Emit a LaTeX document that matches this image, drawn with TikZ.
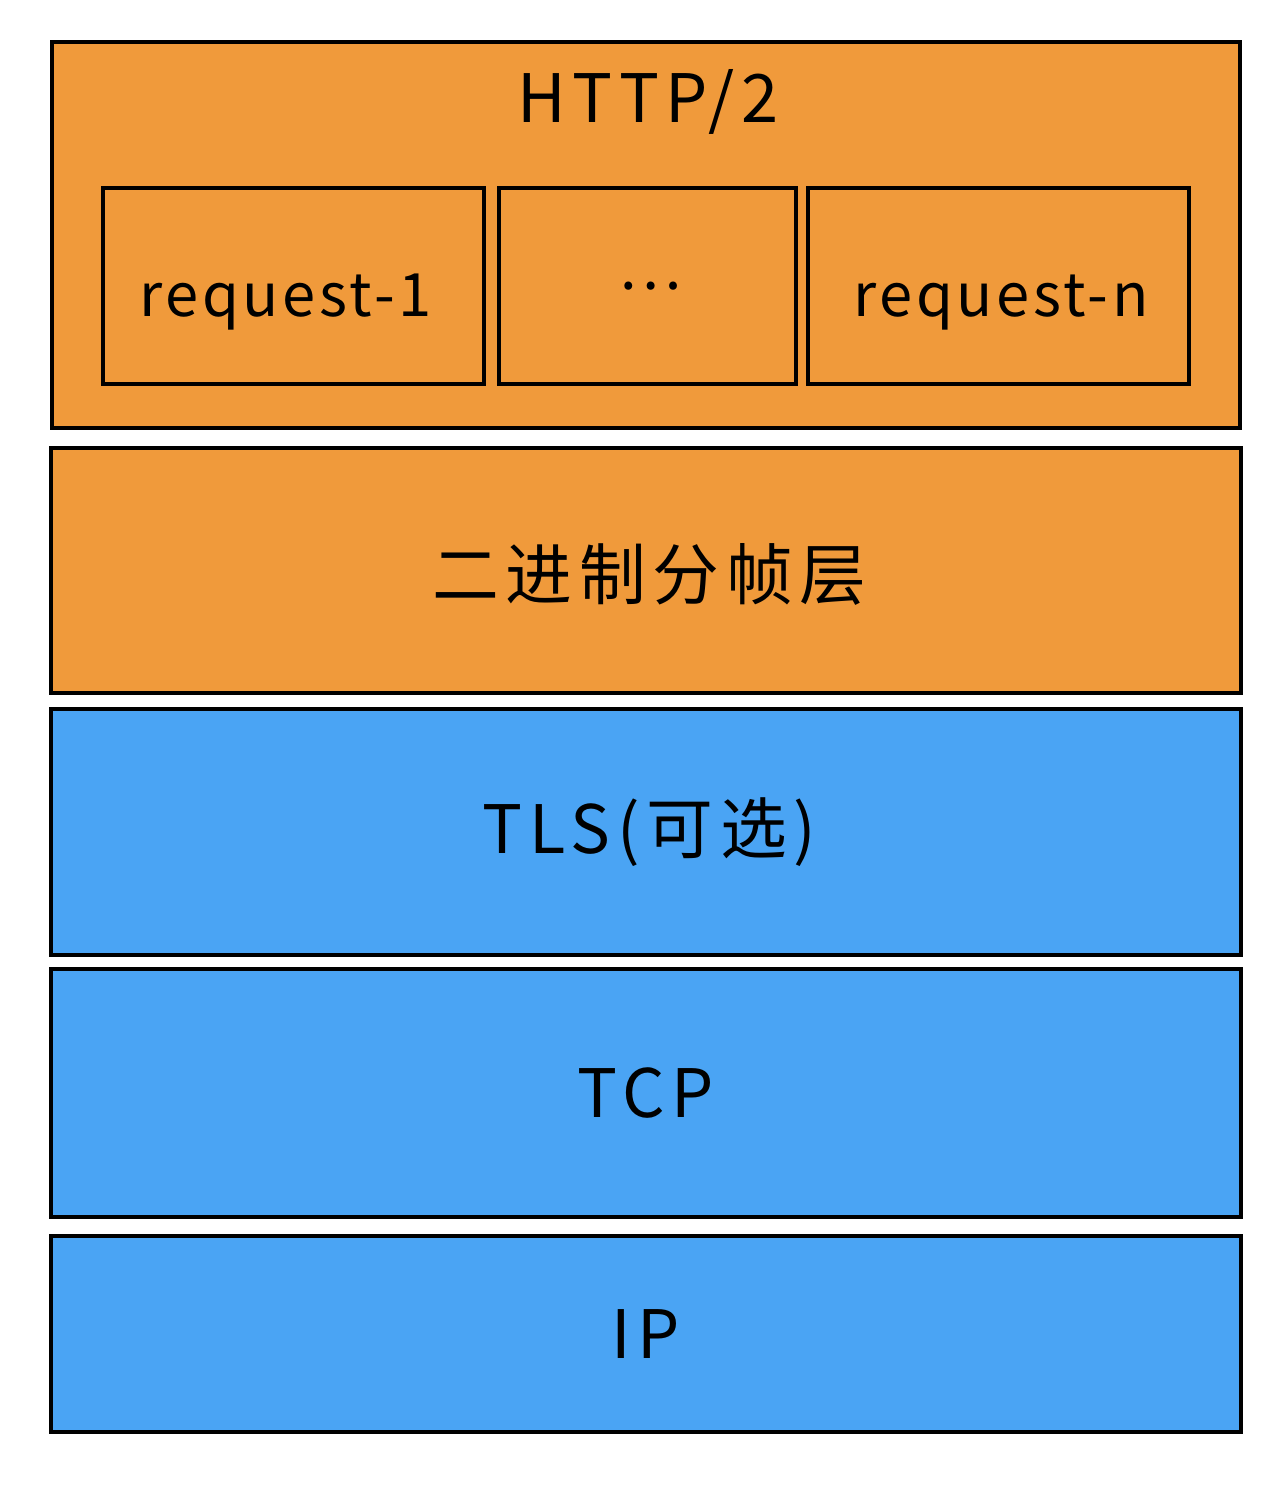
\documentclass[tikz,border=0pt]{standalone}
\usepackage{fontspec}
\setmainfont{Noto Sans CJK SC}
\newfontfamily\layerfont[LetterSpace=10]{Noto Sans CJK SC}
\newfontfamily\reqfont[LetterSpace=6]{Noto Sans CJK SC}
\usetikzlibrary{positioning}

\definecolor{layerorange}{HTML}{F09A3B}
\definecolor{layerblue}{HTML}{4AA4F4}

\begin{document}
\begin{tikzpicture}[
  x=0.02cm,y=-0.02cm,
  layer/.style={draw,line width=2.2pt,minimum width=23.8cm,inner sep=0pt},
  reqbox/.style={draw,line width=2pt,minimum height=3.92cm,inner sep=0pt,
                 text height=1.5cm,text depth=0.3cm,font=\reqfont\fontsize{34}{40}\selectfont},
  label/.style={font=\layerfont\fontsize{38}{44}\selectfont},
]
\useasboundingbox (0,0) rectangle (1288,1488);

% HTTP/2 with its requests
\node[layer,fill=layerorange,minimum width=23.76cm,minimum height=7.72cm] (http) at (646,235) {};
\node[label] (httptitle) at (648,102) {HTTP/2};
\node[reqbox,minimum width=7.62cm] (req1) at (293.5,286) {\hspace{-9pt}request-1};
\node[reqbox,minimum width=5.94cm,text height=,text depth=] (dots) at (647.5,286) {\hspace{3pt}⋯};
\node[reqbox,minimum width=7.62cm] (reqn) at (998.5,286) {\hspace{3pt}request-n};

% lower layers
\node[layer,fill=layerorange,minimum height=4.9cm] (frame) at (646,570.5) {};
\node[label] at ([xshift=2pt,yshift=-2pt]frame.center) {二进制分帧层};
\node[layer,fill=layerblue,minimum height=4.92cm] (tls) at (646,832) {};
\node[label] at ([xshift=2pt]tls.center) {TLS(可选)};
\node[layer,fill=layerblue,minimum height=4.96cm] (tcp) at (646,1093) {};
\node[label] at (tcp.center) {TCP};
\node[layer,fill=layerblue,minimum height=3.92cm] (ip) at (646,1334) {};
\node[label] at (ip.center) {IP};

\end{tikzpicture}
\end{document}
